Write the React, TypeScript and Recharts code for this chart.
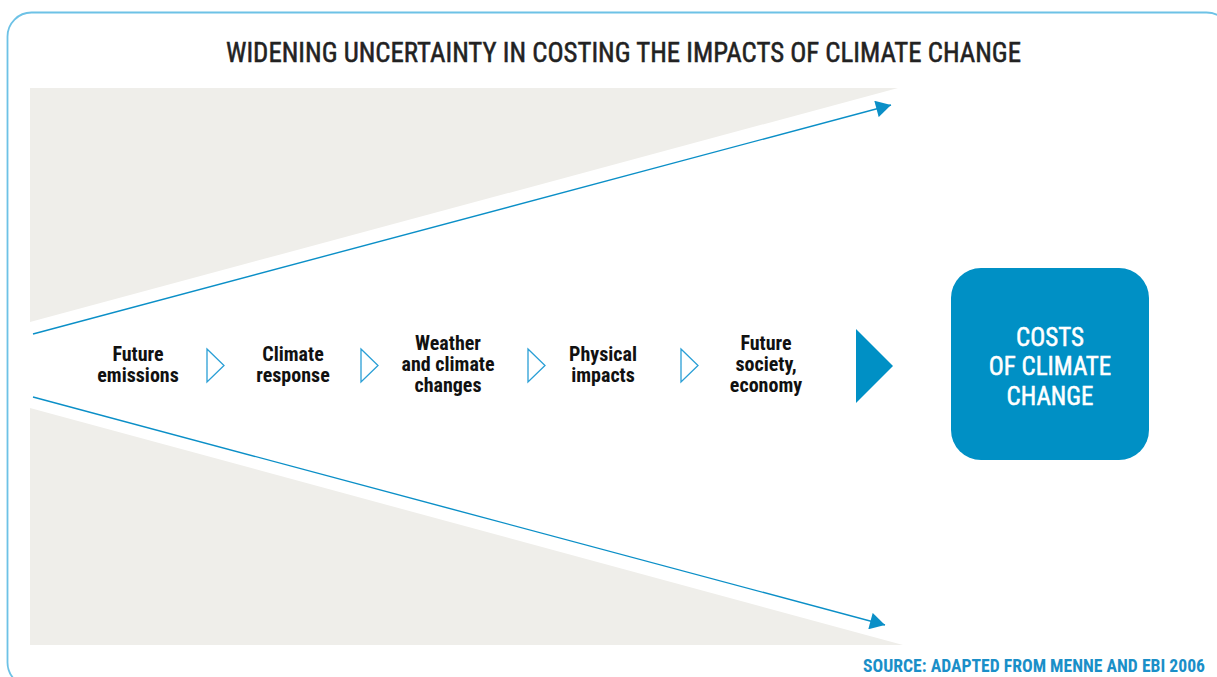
import { Area, ComposedChart, Line, ReferenceArea, Scatter, XAxis, YAxis } from 'recharts';

const W = 1217;
const H = 677;

// diagram is laid out in picture units (x right, y down)
const upperBand = [
  { x: 30, range: [322, 88] },
  { x: 898, range: [88, 88] },
];
const lowerBand = [
  { x: 30, range: [408, 645] },
  { x: 903, range: [645, 645] },
];
const upperArrow = [
  { x: 33, y: 334 },
  { x: 891, y: 105 },
];
const lowerArrow = [
  { x: 33, y: 397 },
  { x: 885, y: 625 },
];
const stageLabels = [
  ['Future', 'emissions'],
  ['Climate', 'response'],
  ['Weather', 'and climate', 'changes'],
  ['Physical', 'impacts'],
  ['Future', 'society,', 'economy'],
];
const stageX = [138, 293, 448, 603, 766];
const chevronX = [215, 369, 536, 689];
const bigArrow = [{ x: 874, y: 366 }];
const costBox = { x1: 951, x2: 1149, y1: 268, y2: 460 };
const costLabel = [{ x: 1050, y: 366, lines: ['COSTS', 'OF CLIMATE', 'CHANGE'] }];

const stages = stageLabels.map((lines, i) => ({ x: stageX[i], y: 364, lines }));
const chevrons = chevronX.map((x) => ({ x, y: 365.5 }));

const BLUE = '#0b8fc7';
const BOX = '#0090c5';
const GRAY = '#efeeea';
const FONT = "'Liberation Sans Narrow', 'Roboto Condensed', Roboto, sans-serif";

function MultiLine({ cx, cy, payload, size, lh, cap, fill, weight, thicken }: any) {
  const lines: string[] = payload.lines;
  const first = cy - ((lines.length - 1) * lh) / 2 + cap / 2;
  return (
    <text textAnchor="middle" fontFamily={FONT} fontSize={size} fontWeight={weight} fill={fill}
      stroke={thicken ? fill : 'none'} strokeWidth={thicken || 0}>
      {lines.map((t, i) => (
        <tspan key={i} x={cx} y={first + i * lh}>{t}</tspan>
      ))}
    </text>
  );
}

export default function App() {
  return (
    <div style={{ position: 'fixed', left: 0, top: 0, width: W, height: H, background: '#fff' }}>
      <ComposedChart width={W} height={H} margin={{ top: 0, right: 0, bottom: 0, left: 0 }}>
        <defs>
          <marker id="arrowHead" markerUnits="userSpaceOnUse" markerWidth="17" markerHeight="17"
            viewBox="0 0 15 17" refX="15" refY="8.5" orient="auto">
            <path d="M0,0 L15,8.5 L0,17 Z" fill={BLUE} />
          </marker>
        </defs>
        <XAxis type="number" dataKey="x" domain={[0, W]} hide />
        <YAxis type="number" domain={[0, H]} reversed hide />
        <Area data={upperBand} dataKey="range" type="linear" stroke="none" fill={GRAY} fillOpacity={1} isAnimationActive={false} activeDot={false} />
        <Area data={lowerBand} dataKey="range" type="linear" stroke="none" fill={GRAY} fillOpacity={1} isAnimationActive={false} activeDot={false} />
        <Line data={upperArrow} dataKey="y" type="linear" stroke={BLUE} strokeWidth={1.4} dot={false} activeDot={false}
          markerEnd="url(#arrowHead)" isAnimationActive={false} />
        <Line data={lowerArrow} dataKey="y" type="linear" stroke={BLUE} strokeWidth={1.4} dot={false} activeDot={false}
          markerEnd="url(#arrowHead)" isAnimationActive={false} />
        <Scatter data={chevrons} dataKey="y" isAnimationActive={false}
          shape={(p: any) => (
            <polygon points={`${p.cx - 8},${p.cy - 16.5} ${p.cx + 9},${p.cy} ${p.cx - 8},${p.cy + 16.5}`}
              fill="none" stroke="#2a9fd6" strokeWidth={1.3} />
          )} />
        <Scatter data={bigArrow} dataKey="y" isAnimationActive={false}
          shape={(p: any) => (
            <polygon points={`${p.cx - 18},${p.cy - 37} ${p.cx + 19},${p.cy} ${p.cx - 18},${p.cy + 37}`} fill={BOX} />
          )} />
        <Scatter data={stages} dataKey="y" isAnimationActive={false}
          shape={(p: any) => <MultiLine {...p} size={20} lh={21} cap={14} fill="#111" weight="bold" />} />
        <ReferenceArea x1={costBox.x1} x2={costBox.x2} y1={costBox.y1} y2={costBox.y2}
          shape={(p: any) => <rect x={p.x} y={p.y} width={p.width} height={p.height} rx={30} ry={30} fill={BOX} />} />
        <Scatter data={costLabel} dataKey="y" isAnimationActive={false}
          shape={(p: any) => <MultiLine {...p} size={25} lh={29.5} cap={18} fill="#fff" weight="normal" thicken={0.5} />} />
      </ComposedChart>
      <svg width={W} height={H} style={{ position: 'absolute', left: 0, top: 0, pointerEvents: 'none' }}>
        <rect x={7.5} y={12.5} width={1223} height={674} rx={24} ry={24} fill="none" stroke="#6dc2e6" strokeWidth={1.8} />
        <text x={226} y={62} textLength={795} lengthAdjust="spacingAndGlyphs" fontFamily={FONT} fontSize={27}
          fill="#222" stroke="#222" strokeWidth={0.5}>
          WIDENING UNCERTAINTY IN COSTING THE IMPACTS OF CLIMATE CHANGE
        </text>
        <text x={863} y={672} textLength={342} lengthAdjust="spacingAndGlyphs" fontFamily={FONT} fontSize={18} fontWeight="bold" fill="#1a8fc8">
          SOURCE:  ADAPTED FROM MENNE AND EBI 2006
        </text>
      </svg>
    </div>
  );
}
